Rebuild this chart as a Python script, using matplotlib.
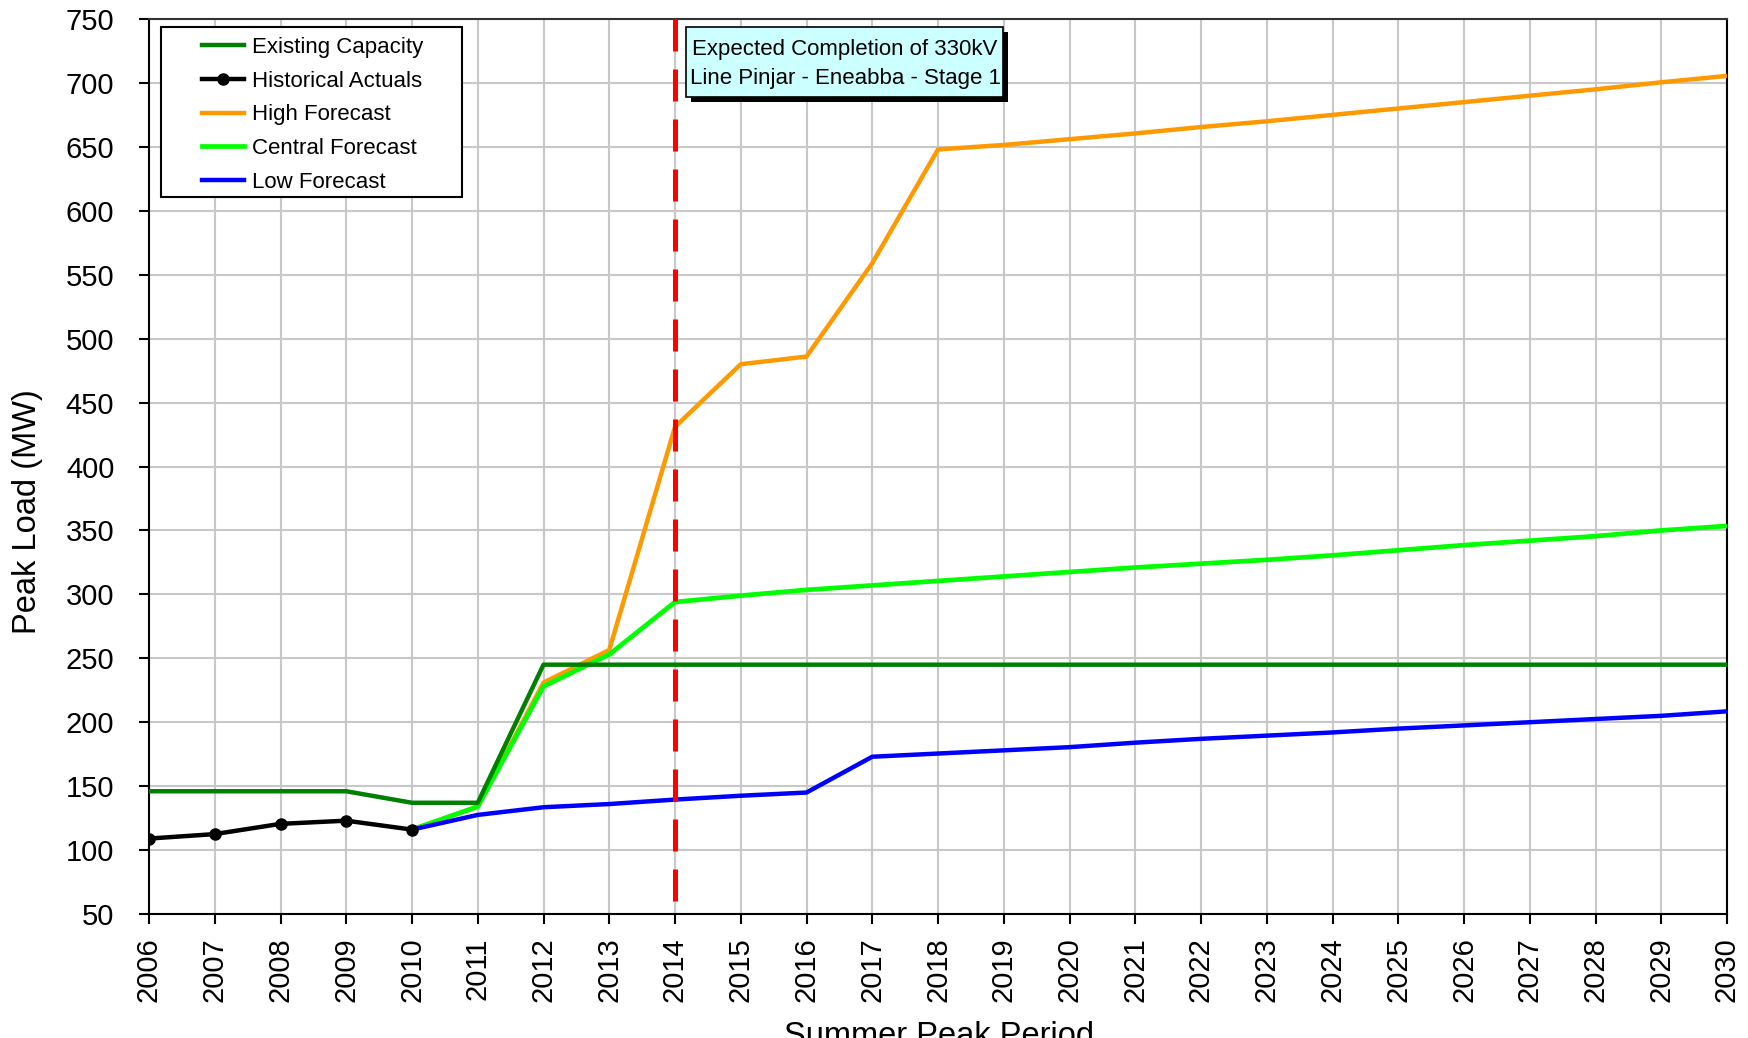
import matplotlib
matplotlib.use("Agg")
import matplotlib.pyplot as plt
from matplotlib.patches import Rectangle
from matplotlib.lines import Line2D

plt.rcParams['font.family'] = ['Liberation Sans', 'DejaVu Sans']

years = list(range(2006, 2031))

existing_years = list(range(2006, 2031))
existing_capacity = [146, 146, 146, 146, 137, 137] + [245] * 19

hist_years = [2006, 2007, 2008, 2009, 2010]
historical = [109, 112.5, 120.5, 123, 116]

fc_years = list(range(2010, 2031))
high_fc = [116, 134, 231, 256.5, 431, 480, 486, 559, 648, 651.5, 656, 660.5,
           665.5, 670, 675, 680, 685, 690, 695, 700.5, 705.5]
central_fc = [116, 134, 228, 253, 294, 299, 303.5, 307, 310.5, 314, 317.5, 321,
              324, 327, 330.5, 334.5, 338.5, 342, 345.5, 350, 353.5]
low_fc = [116, 127.5, 133.5, 136, 139.5, 142.5, 145, 173, 175.5, 178, 180.5, 184,
          187, 189.5, 192, 195, 197.5, 200, 202.5, 205, 208.5]

completion_year = 2014
annotation = "Expected Completion of 330kV\nLine Pinjar - Eneabba - Stage 1"

W, H = 1748, 1038
fig = plt.figure(figsize=(W / 100, H / 100), dpi=100)
L, R, T, B = 149, 1727, 19, 914
ax = fig.add_axes([L / W, 1 - B / H, (R - L) / W, (B - T) / H])

ax.plot(fc_years, high_fc, color='#FF9900', lw=3.2, solid_capstyle='butt', zorder=3)
ax.plot(fc_years, central_fc, color='#00FF00', lw=3.4, solid_capstyle='butt', zorder=4)
ax.plot(fc_years, low_fc, color='#0000FF', lw=3.2, solid_capstyle='butt', zorder=4)
ax.plot(existing_years, existing_capacity, color='#008000', lw=3.2, solid_capstyle='butt', zorder=5)
ax.plot(hist_years, historical, color='black', lw=3.2, marker='o', markersize=8, zorder=6)

ax.set_xlim(2006, 2030)
ax.set_ylim(50, 750)
ymin, ymax = ax.get_ylim()
ax.plot([completion_year, completion_year], [ymax, ymin], color='#FF0000', lw=3.6,
        dashes=(6.4, 3.6), dash_capstyle='butt', zorder=7)

ax.set_xticks(years)
ax.set_xticklabels([str(y) for y in years], rotation=90)
ax.set_yticks(range(50, 751, 50))
ax.grid(True, color='#C8C8C8', lw=1.5, zorder=0)
ax.set_axisbelow(True)
ax.tick_params(axis='both', direction='out', length=7, width=1.5, labelsize=21, colors='black')
ax.tick_params(axis='y', pad=18)
ax.tick_params(axis='x', pad=10)
for s in ['left', 'bottom', 'right']:
    ax.spines[s].set_color('black')
    ax.spines[s].set_linewidth(1.5)
ax.spines['top'].set_color('#333333')
ax.spines['top'].set_linewidth(1.5)

fig.text(12 / W, 1 - 512 / H, "Peak Load (MW)", rotation=90, ha='left', va='center', fontsize=23.5)
fig.text(939 / W, 1 - 1021 / H, "Summer Peak Period", ha='center', va='top', fontsize=23.5)

# Legend
handles = [
    Line2D([], [], color='#008000', lw=3.2),
    Line2D([], [], color='black', lw=3.2, marker='o', markersize=8),
    Line2D([], [], color='#FF9900', lw=3.2),
    Line2D([], [], color='#00FF00', lw=3.4),
    Line2D([], [], color='#0000FF', lw=3.2),
]
labels = ["Existing Capacity", "Historical Actuals", "High Forecast", "Central Forecast", "Low Forecast"]
fig.patches.append(Rectangle((161 / W, 1 - 197 / H), 301 / W, 170 / H, transform=fig.transFigure,
                             facecolor='white', edgecolor='black', lw=1.5, zorder=8))
leg = fig.legend(handles, labels, loc='upper left', bbox_to_anchor=(202 / W, 1 - 37 / H),
                 bbox_transform=fig.transFigure, frameon=False, fontsize=16,
                 handlelength=1.9, handletextpad=0.36, labelspacing=0.57, borderpad=0,
                 borderaxespad=0)
leg.set_zorder(9)

# Annotation box with shadow
fig.patches.append(Rectangle((691 / W, 1 - 102 / H), 317 / W, 70 / H, transform=fig.transFigure,
                             facecolor='black', edgecolor='black', lw=0, zorder=8))
fig.patches.append(Rectangle((686 / W, 1 - 97 / H), 317 / W, 70 / H, transform=fig.transFigure,
                             facecolor='#CCFFFF', edgecolor='black', lw=1.2, zorder=8.5))
fig.text(845 / W, 1 - 64 / H, annotation, ha='center', va='center', fontsize=16,
         linespacing=1.45, zorder=9)

fig.savefig("out.png", dpi=100)
